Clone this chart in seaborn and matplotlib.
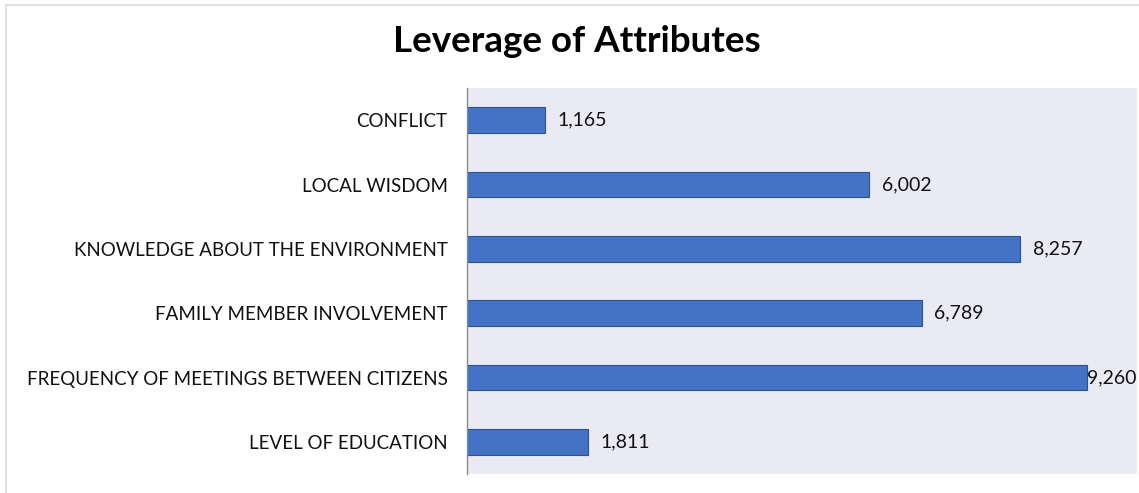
import matplotlib
matplotlib.use("Agg")
import matplotlib.pyplot as plt
import seaborn as sns
import pandas as pd
from matplotlib.patches import Rectangle

attributes = [
    "CONFLICT",
    "LOCAL WISDOM",
    "KNOWLEDGE ABOUT THE ENVIRONMENT",
    "FAMILY MEMBER INVOLVEMENT",
    "FREQUENCY OF MEETINGS BETWEEN CITIZENS",
    "LEVEL OF EDUCATION",
]
leverage = [1165, 6002, 8257, 6789, 9260, 1811]
title = "Leverage of Attributes"

df = pd.DataFrame({"attribute": attributes, "leverage": leverage})

sns.set_theme(style="white")
plt.rcParams["font.family"] = ["Lato", "DejaVu Sans"]

fig = plt.figure(figsize=(11.39, 4.93), dpi=100)
ax = fig.add_axes([467 / 1139, 1 - 474 / 493, (1137 - 467) / 1139, (474 - 88) / 493])

XMAX = 10000

sns.barplot(data=df, x="leverage", y="attribute", orient="h", ax=ax,
            color="#4472C4", saturation=1, width=0.4,
            edgecolor="#2F528F", linewidth=0.8)

ax.set_facecolor("#E9EAF3")
ax.set_xlim(0, XMAX)
ax.set_ylim(5.5, -0.5)
ax.set_xlabel("")
ax.set_ylabel("")
ax.set_xticks([])
for side in ("top", "right", "bottom"):
    ax.spines[side].set_visible(False)
ax.spines["left"].set_color("#8C8C8C")
ax.spines["left"].set_linewidth(1.0)
ax.tick_params(axis="y", length=0, pad=14, labelsize=13.5, labelcolor="#111111")

# value labels outside the bar ends, kept inside the plot area
texts = []
for i, v in enumerate(leverage):
    t = ax.annotate(f"{v:,}", xy=(v, i), xytext=(9, 0), textcoords="offset points",
                    ha="left", va="center", fontsize=14, color="#111111")
    texts.append((t, i, v))

fig.text(577 / 1139, 1 - 41 / 493, title, ha="center", va="center",
         fontsize=26.5, fontweight="bold", color="#000000")

# outer chart frame
fig.patches.append(Rectangle((6 / 1139, -0.1), 1.2, 1 - 5 / 493 + 0.1,
                             transform=fig.transFigure, fill=False,
                             edgecolor="#D9D9D9", linewidth=1.2))

fig.canvas.draw()
renderer = fig.canvas.get_renderer()
ax_right = ax.get_window_extent(renderer).x1
for t, i, v in texts:
    bb = t.get_window_extent(renderer)
    if bb.x1 > ax_right:
        t.xy = (XMAX, i)
        t.xyann = (0, 0)
        t.set_ha("right")

fig.savefig("out.png", dpi=100)
